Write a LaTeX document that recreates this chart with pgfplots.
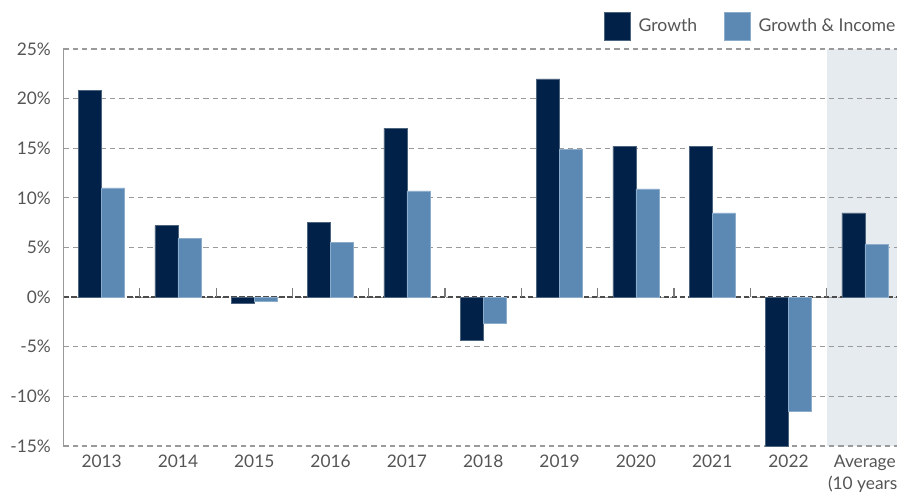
\documentclass[border=0pt]{standalone}
\usepackage{fontspec}
\setmainfont{Lato}
\usepackage{pgfplots}
\pgfplotsset{compat=1.18}
\definecolor{growth}{HTML}{012148}
\definecolor{ginc}{HTML}{5B89B4}
\definecolor{avgshade}{HTML}{E6EBF0}
\definecolor{txt}{HTML}{555555}
\definecolor{gridc}{HTML}{9A9A9A}
\begin{document}
\begin{tikzpicture}
\begin{axis}[
  set layers,
  at={(0,0)}, anchor=south west,
  scale only axis,
  width=629.6pt, height=297.75pt,
  ybar, bar width=17.25pt,
  xmin=-0.5, xmax=10.5,
  ymin=-15, ymax=25,
  xtick={0,...,10},
  xticklabels={2013,2014,2015,2016,2017,2018,2019,2020,2021,2022,{Average\\(10 years)}},
  xticklabel style={align=center, anchor=north, yshift=-3.5pt},
  ytick={-15,-10,...,25},
  yticklabels={-15\%,-10\%,-5\%,0\%,5\%,10\%,15\%,20\%,25\%},
  yticklabel style={anchor=east, xshift=-6pt},
  major tick length=0pt,
  ymajorgrids,
  grid style={gridc, line width=0.8pt, dash pattern=on 4pt off 3pt},
  axis x line*=bottom,
  x axis line style={draw=none},
  axis y line*=left,
  y axis line style={draw=gridc, line width=0.9pt},
  tick label style={font=\fontsize{13pt}{16pt}\selectfont, text=txt},
  extra y ticks={0},
  extra y tick labels={},
  extra y tick style={grid style={black!70, line width=1pt, dash pattern=on 4pt off 2pt}},
  legend columns=2,
  legend style={draw=none, fill=none, at={(rel axis cs:0.643,1.058)}, anchor=west,
    inner sep=0pt, font=\fontsize{13.2pt}{15pt}\selectfont, text=txt,
    /tikz/every odd column/.append style={column sep=4pt},
    /tikz/every even column/.append style={column sep=17.75pt}},
  legend image code/.code={\fill[#1] (0pt,-10.5pt) rectangle (20pt,10.5pt);},
  legend cell align=left,
]
\begin{pgfonlayer}{axis background}
\fill[avgshade] (axis cs:9.5,-15) rectangle (axis cs:10.5,25);
\end{pgfonlayer}
\addplot[fill=growth, draw=growth!70!white, line width=0.3pt, bar shift=-8.625pt] coordinates {
(0,20.8) (1,7.2) (2,-0.6) (3,7.5) (4,17.0) (5,-4.3) (6,22.0) (7,15.2) (8,15.2) (9,-15.0) (10,8.5)};
\addlegendentry{Growth}
\addplot[fill=ginc, draw=ginc!70!white, line width=0.3pt, bar shift=8.625pt] coordinates {
(0,11.0) (1,5.9) (2,-0.4) (3,5.5) (4,10.7) (5,-2.6) (6,14.9) (7,10.9) (8,8.5) (9,-11.5) (10,5.3)};
\addlegendentry{Growth \& Income}
\pgfplotsinvokeforeach{0.5,1.5,2.5,3.5,4.5,5.5,6.5,7.5,8.5,9.5}{
  \draw[gridc!80!black, line width=0.9pt] (axis cs:#1,0) -- ++(0pt,6.5pt);
}
\end{axis}
\pgfresetboundingbox
\useasboundingbox (-47.6pt,-33.75pt) rectangle (625.1pt,334.5pt);
\end{tikzpicture}
\end{document}
